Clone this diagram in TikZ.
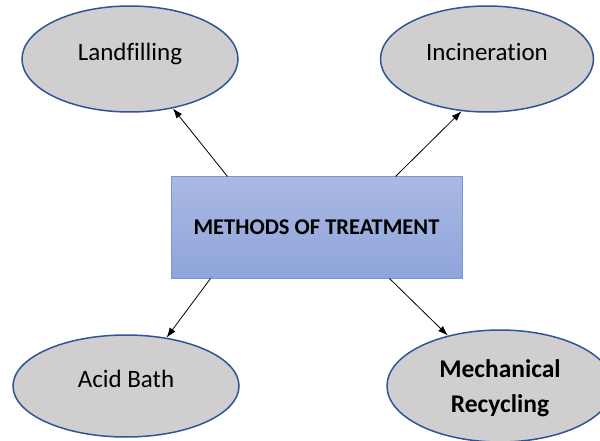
\documentclass[tikz,border=0pt]{standalone}
\usepackage{fontspec}
\setmainfont{Carlito}[Ligatures=NoCommon]
\usetikzlibrary{shapes.geometric,arrows.meta}
\definecolor{ovalfill}{RGB}{208,206,206}
\definecolor{ovalline}{RGB}{47,85,151}
\definecolor{boxtop}{RGB}{170,185,226}
\definecolor{boxbottom}{RGB}{142,164,219}
\definecolor{boxline}{RGB}{120,150,214}
\tikzset{
  method/.style={ellipse, draw=ovalline, line width=1.5pt, fill=ovalfill, inner sep=0pt,
    font=\fontsize{25}{30}\selectfont, align=center, text height=18pt, text depth=15pt},
  centrebox/.style={rectangle, draw=boxline, line width=1pt, top color=boxtop, bottom color=boxbottom,
    minimum width=291pt, minimum height=101pt, inner sep=0pt, font=\bfseries\fontsize{22.5}{27}\selectfont},
  pointer/.style={-{Latex[length=10pt,width=7pt]}, line width=0.8pt}
}
\begin{document}
\begin{tikzpicture}[x=1pt,y=-1pt]
			\clip (0,0) rectangle (600,441);
			\useasboundingbox (0,0) rectangle (600,441);
			\node (box)[centrebox] at (316.5,227.5) {METHODS OF TREATMENT};
			\node (land)[method, minimum width=216pt, minimum height=106pt] at (130,59) {Landfilling};
			\node (inc)[method, minimum width=213pt, minimum height=106pt] at (487,59) {Incineration};
			\node (acid)[method, minimum width=226pt, minimum height=102pt] at (126,386) {Acid Bath};
			\node (mech)[method, minimum width=226pt, minimum height=112pt, text height=58pt, text depth=5pt,
				font=\bfseries\fontsize{25.5}{35}\selectfont] at (500,386) {Mechanical\\Recycling};

			\draw [pointer]([xshift=57pt]box.north west) -- (land.311);
			\draw [pointer]([xshift=225pt]box.north west) -- (inc.244);
			\draw [pointer]([xshift=40pt]box.south west) -- (acid.50);
			\draw [pointer]([xshift=219pt]box.south west) -- (mech.136);
		\end{tikzpicture}
\end{document}
